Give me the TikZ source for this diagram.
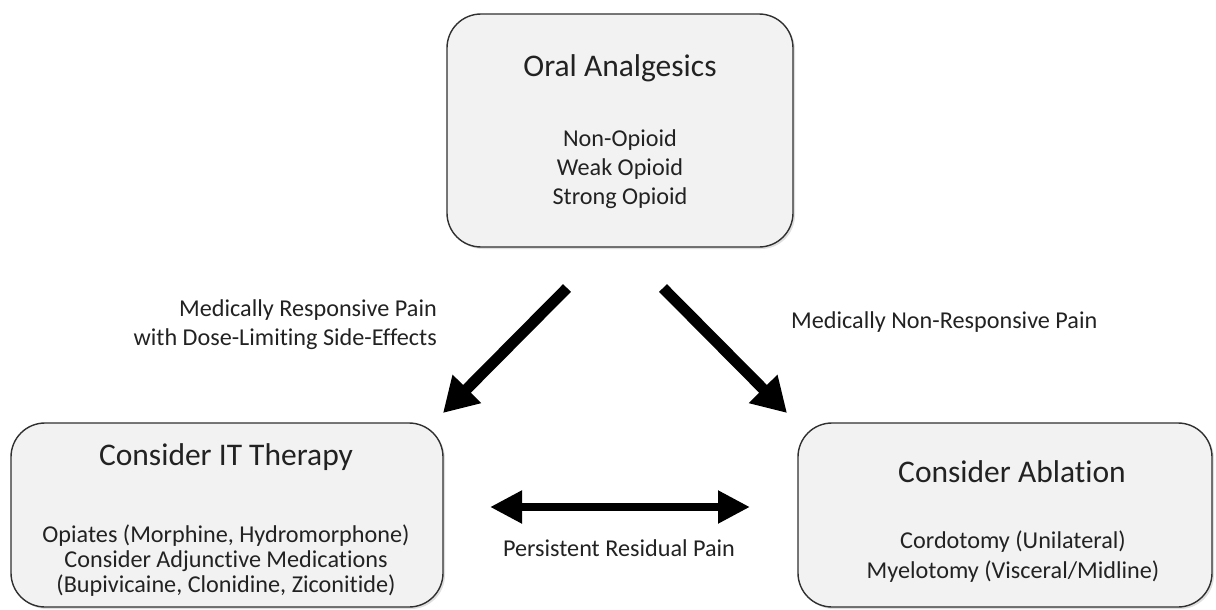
\documentclass[tikz,border=0pt]{standalone}
\usepackage{fontspec}
\setmainfont{Carlito}[Ligatures=NoCommon]
\usetikzlibrary{arrows.meta,shadows}
\definecolor{boxfill}{HTML}{F2F2F2}
\definecolor{boxline}{HTML}{303030}
\definecolor{txt}{HTML}{222222}
\tikzset{
  pbox/.style={draw=boxline, line width=1.4pt, fill=boxfill, rounded corners=34pt,
    drop shadow={shadow xshift=2pt, shadow yshift=-2pt, opacity=0.25}},
  ttl/.style={text=txt, font=\fontsize{31.5}{36}\selectfont, inner sep=0pt},
  bodytxt/.style={text=txt, align=center, inner sep=0pt},
  lbl/.style={text=txt, font=\fontsize{24.2}{28}\selectfont, inner sep=0pt},
  bigarrow/.style={line width=11pt, -{Triangle[length=34pt, width=38pt]}},
  dblarrow/.style={line width=8pt, {Triangle[length=32pt, width=31pt]}-{Triangle[length=32pt, width=31pt]}},
}
\begin{document}
\begin{tikzpicture}[x=1pt,y=-1pt]
\useasboundingbox (0,0) rectangle (1216,610);
% boxes
\draw[pbox] (447,14) rectangle (793,247);
\draw[pbox] (11,423) rectangle (443,607);
\draw[pbox] (798,423) rectangle (1212,607);
\node[ttl] (toptitle) at (620,68) {Oral Analgesics};
\node[bodytxt, font=\fontsize{24.2}{29}\selectfont] (topbody) at (620,169) {Non-Opioid\\Weak Opioid\\Strong Opioid};
\node[ttl] (lefttitle) at (226,457) {Consider IT Therapy};
\node[bodytxt, font=\fontsize{24.2}{25}\selectfont] (leftbody) at (226,561) {Opiates (Morphine, Hydromorphone)\\Consider Adjunctive Medications\\(Bupivicaine, Clonidine, Ziconitide)};
\node[ttl] (righttitle) at (1012,472) {Consider Ablation};
\node[bodytxt, font=\fontsize{24.2}{30}\selectfont] (rightbody) at (1013,557) {Cordotomy (Unilateral)\\Myelotomy (Visceral/Midline)};
% arrows
\coordinate (a1s) at (567,288);
\coordinate (a1e) at (443,413);
\coordinate (a2s) at (663,288);
\coordinate (a2e) at (787,413);
\coordinate (a3s) at (490,507);
\coordinate (a3e) at (750,507);
\draw[bigarrow] (a1s) -- (a1e);
\draw[bigarrow] (a2s) -- (a2e);
\draw[dblarrow] (a3s) -- (a3e);
% labels
\node[lbl, anchor=east] (l1) at (437,310) {Medically Responsive Pain};
\node[lbl, anchor=east] (l2) at (437,339) {with Dose-Limiting Side-Effects};
\node[lbl, anchor=west] (l3) at (791,322) {Medically Non-Responsive Pain};
\node[lbl] (l4) at (619,548) {Persistent Residual Pain};
\end{tikzpicture}
\end{document}
